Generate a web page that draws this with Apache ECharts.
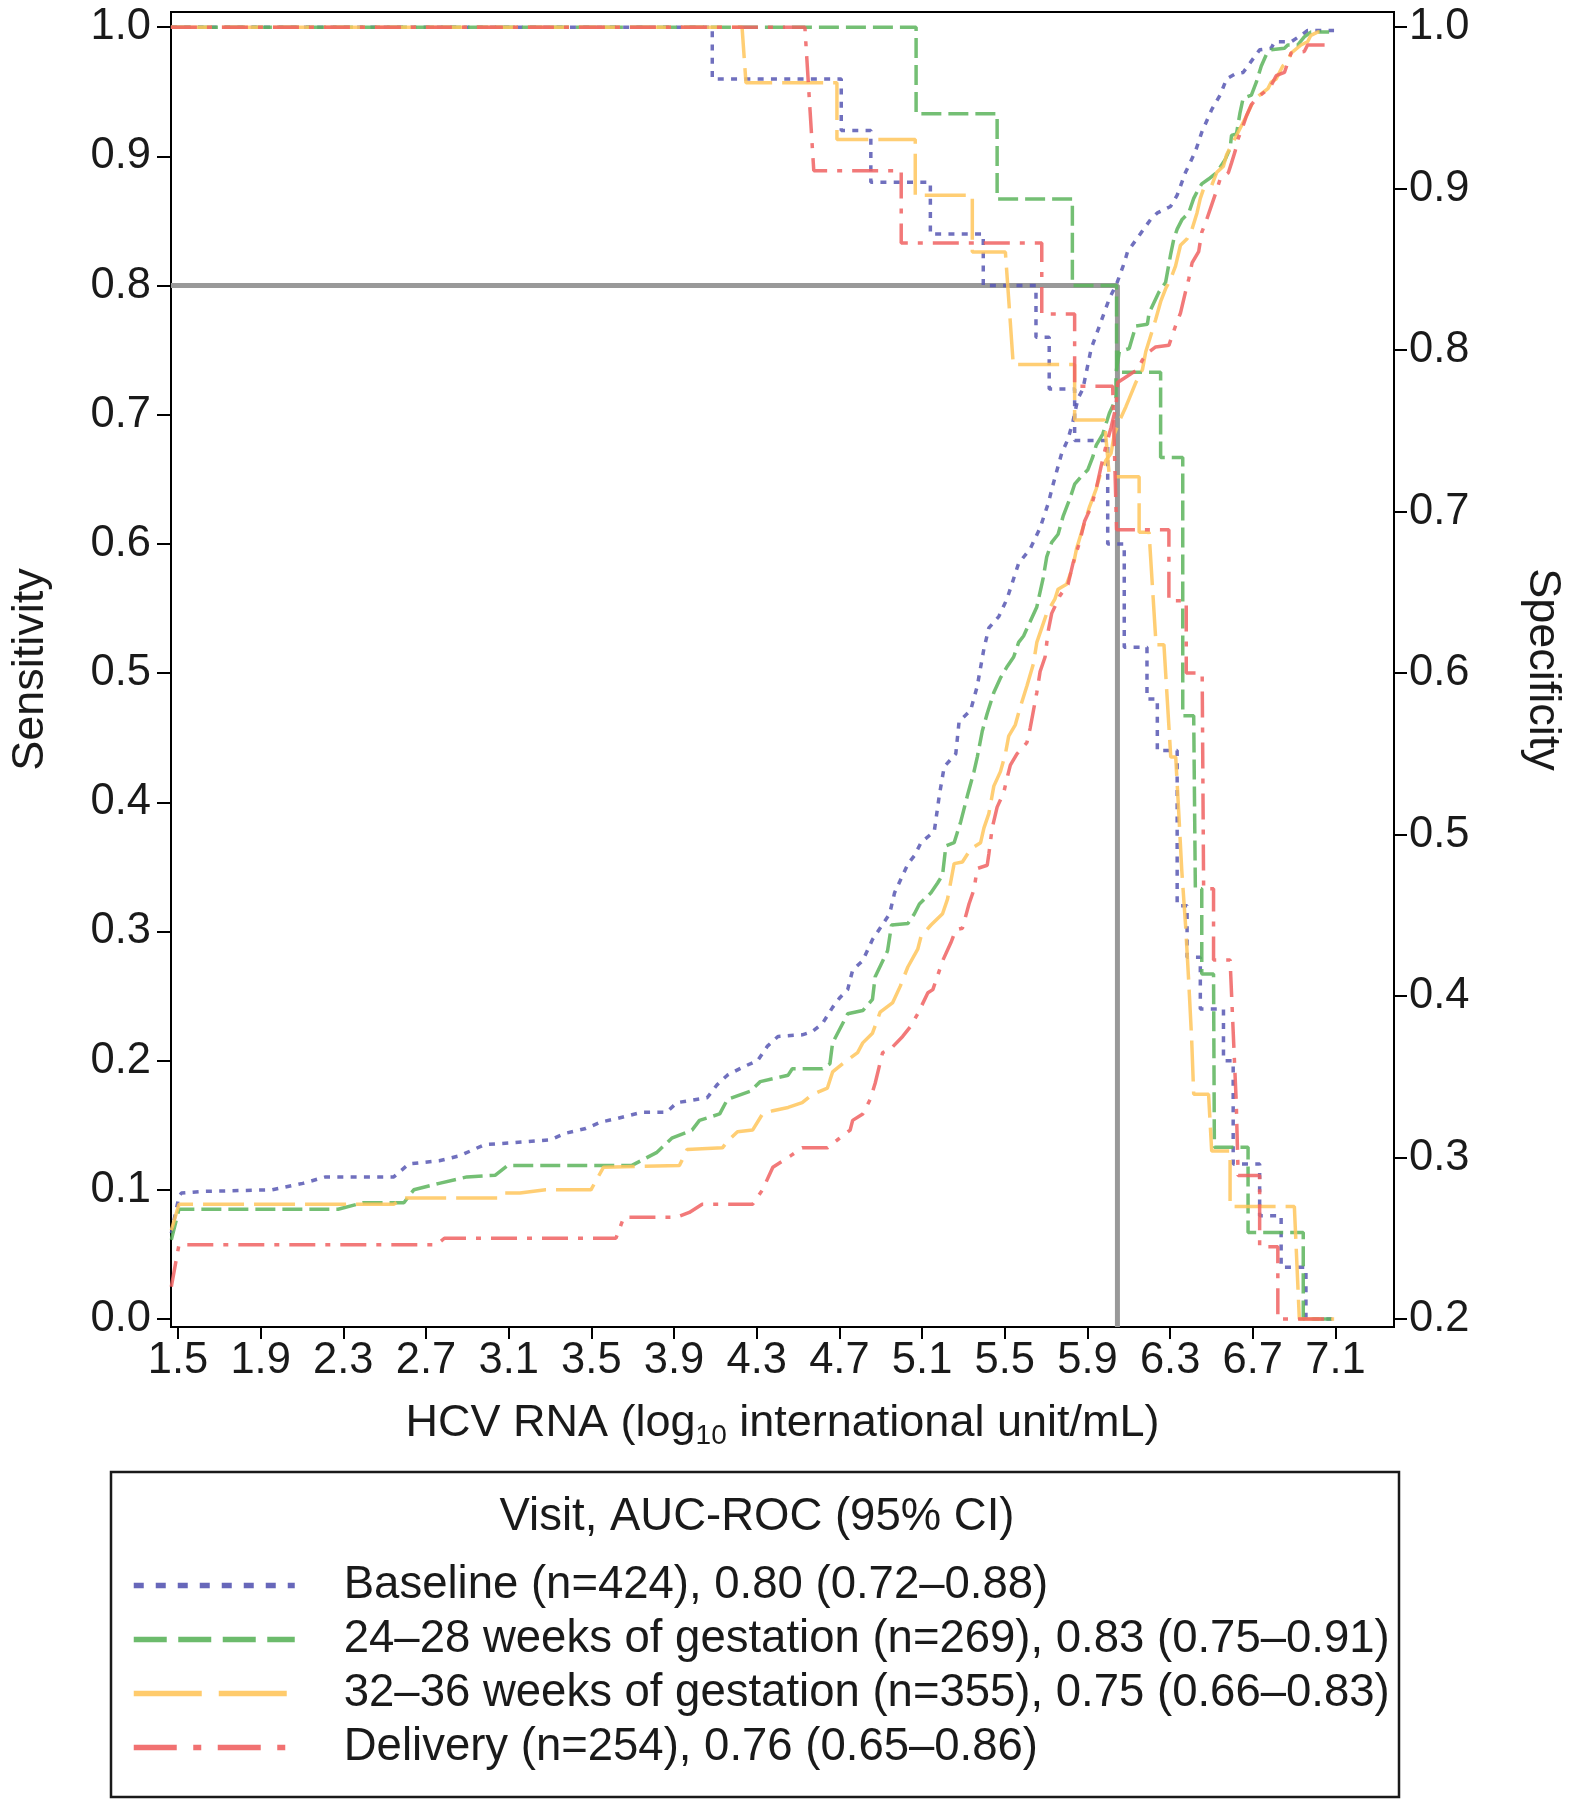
<!DOCTYPE html>
<html>
<head>
<meta charset="utf-8">
<script src="https://cdn.jsdelivr.net/npm/echarts@6/dist/echarts.min.js"></script>
<style>html,body{margin:0;padding:0;background:#fff}#c{width:1573px;height:1800px}</style>
</head>
<body>
<div id="c"></div>
<script>
// ---------- tick labels ----------
const xTicks = [1.5, 1.9, 2.3, 2.7, 3.1, 3.5, 3.9, 4.3, 4.7, 5.1, 5.5, 5.9, 6.3, 6.7, 7.1];
const sensTicks = [0, 0.1, 0.2, 0.3, 0.4, 0.5, 0.6, 0.7, 0.8, 0.9, 1.0];
const specTicks = [0.2, 0.3, 0.4, 0.5, 0.6, 0.7, 0.8, 0.9, 1.0];

// ---------- series names ----------
const names = [
  'Baseline (n=424), 0.80 (0.72\u20130.88)',
  '24\u201328 weeks of gestation (n=269), 0.83 (0.75\u20130.91)',
  '32\u201336 weeks of gestation (n=355), 0.75 (0.66\u20130.83)',
  'Delivery (n=254), 0.76 (0.65\u20130.86)'
];

// ---------- reference cut-off (sensitivity 0.80) ----------
const cutoffX = 6.045;
const cutoffSens = 0.8;

// ---------- sensitivity curves (left axis) [HCV RNA, sensitivity] ----------
const baselineSens = [[1.466,1.0],[4.085,1.0],[4.085,0.96],[4.709,0.96],[4.709,0.92],[4.852,0.92],[4.852,0.88],[5.140,0.88],[5.140,0.84],[5.396,0.84],[5.396,0.80],[5.651,0.80],[5.651,0.76],[5.715,0.76],[5.715,0.72],[5.838,0.72],[5.838,0.68],[5.998,0.68],[5.998,0.60],[6.078,0.60],[6.078,0.52],[6.188,0.52],[6.188,0.48],[6.238,0.48],[6.238,0.44],[6.334,0.44],[6.334,0.32],[6.382,0.32],[6.382,0.28],[6.446,0.28],[6.446,0.24],[6.558,0.24],[6.558,0.20],[6.605,0.20],[6.605,0.12],[6.733,0.12],[6.733,0.08],[6.837,0.08],[6.837,0.04],[6.957,0.04],[6.957,0.0],[7.093,0.0]];
const wk2428Sens = [[1.466,1.0],[5.071,1.0],[5.071,0.933],[5.463,0.933],[5.463,0.867],[5.827,0.867],[5.827,0.80],[6.041,0.80],[6.041,0.733],[6.254,0.733],[6.254,0.667],[6.361,0.667],[6.361,0.467],[6.414,0.467],[6.422,0.333],[6.453,0.333],[6.453,0.267],[6.510,0.267],[6.514,0.133],[6.677,0.133],[6.677,0.067],[6.944,0.067],[6.944,0.0],[7.093,0.0]];
const wk3236Sens = [[1.466,1.0],[4.229,1.0],[4.248,0.957],[4.688,0.957],[4.688,0.913],[5.067,0.913],[5.067,0.870],[5.343,0.870],[5.343,0.826],[5.503,0.826],[5.541,0.739],[5.838,0.739],[5.838,0.696],[5.982,0.696],[6.006,0.652],[6.150,0.652],[6.150,0.609],[6.198,0.609],[6.232,0.522],[6.270,0.522],[6.303,0.435],[6.327,0.435],[6.342,0.391],[6.356,0.348],[6.375,0.304],[6.390,0.261],[6.404,0.217],[6.414,0.174],[6.486,0.174],[6.501,0.130],[6.590,0.130],[6.590,0.087],[6.901,0.087],[6.925,0.0],[7.093,0.0]];
const deliverySens = [[1.466,1.0],[4.533,1.0],[4.576,0.889],[4.999,0.889],[4.999,0.833],[5.679,0.833],[5.679,0.778],[5.838,0.778],[5.838,0.722],[6.022,0.722],[6.041,0.611],[6.294,0.611],[6.294,0.556],[6.378,0.556],[6.378,0.500],[6.455,0.500],[6.462,0.333],[6.510,0.333],[6.510,0.278],[6.590,0.278],[6.620,0.167],[6.629,0.111],[6.733,0.111],[6.733,0.056],[6.821,0.056],[6.821,0.0],[7.093,0.0]];

// ---------- specificity curves (right axis) [HCV RNA, specificity] ----------
const baselineSpec = [[1.468,0.253],[1.505,0.276],[1.517,0.278],[1.615,0.279],[1.955,0.280],[2.104,0.284],[2.214,0.288],[2.544,0.288],[2.617,0.296],[2.764,0.298],[2.861,0.301],[2.984,0.308],[3.106,0.309],[3.302,0.311],[3.374,0.315],[3.473,0.318],[3.547,0.322],[3.619,0.324],[3.743,0.328],[3.863,0.328],[3.914,0.334],[4.060,0.337],[4.108,0.345],[4.158,0.351],[4.233,0.356],[4.304,0.360],[4.352,0.369],[4.403,0.375],[4.520,0.376],[4.568,0.378],[4.618,0.383],[4.667,0.393],[4.702,0.399],[4.740,0.404],[4.764,0.416],[4.813,0.422],[4.860,0.435],[4.871,0.437],[4.943,0.451],[4.967,0.464],[5.032,0.482],[5.063,0.487],[5.095,0.495],[5.159,0.502],[5.183,0.524],[5.207,0.542],[5.263,0.550],[5.279,0.570],[5.335,0.577],[5.367,0.592],[5.399,0.615],[5.423,0.628],[5.471,0.635],[5.511,0.646],[5.567,0.668],[5.623,0.677],[5.671,0.690],[5.710,0.705],[5.734,0.717],[5.775,0.736],[5.806,0.745],[5.830,0.756],[5.854,0.770],[5.878,0.776],[5.918,0.801],[5.958,0.815],[6.006,0.832],[6.041,0.841],[6.078,0.854],[6.094,0.861],[6.150,0.871],[6.206,0.881],[6.238,0.885],[6.302,0.889],[6.334,0.896],[6.374,0.910],[6.422,0.923],[6.453,0.935],[6.501,0.949],[6.542,0.958],[6.573,0.968],[6.614,0.971],[6.653,0.972],[6.693,0.979],[6.733,0.986],[6.789,0.987],[6.805,0.991],[6.885,0.991],[6.933,0.995],[6.965,0.998],[7.093,0.998]];
const wk2428Spec = [[1.468,0.249],[1.505,0.268],[2.275,0.268],[2.397,0.272],[2.593,0.272],[2.641,0.280],[2.764,0.284],[2.898,0.288],[3.034,0.289],[3.094,0.295],[3.694,0.295],[3.815,0.303],[3.889,0.312],[3.987,0.317],[4.023,0.323],[4.121,0.327],[4.158,0.336],[4.268,0.341],[4.317,0.347],[4.452,0.351],[4.472,0.355],[4.618,0.355],[4.654,0.358],[4.667,0.371],[4.740,0.389],[4.813,0.391],[4.860,0.398],[4.873,0.412],[4.933,0.428],[4.952,0.444],[5.032,0.445],[5.063,0.451],[5.087,0.457],[5.143,0.464],[5.175,0.470],[5.199,0.475],[5.215,0.493],[5.255,0.495],[5.287,0.508],[5.319,0.524],[5.351,0.539],[5.367,0.548],[5.391,0.564],[5.415,0.575],[5.447,0.588],[5.479,0.597],[5.511,0.604],[5.543,0.610],[5.567,0.619],[5.591,0.623],[5.623,0.632],[5.655,0.641],[5.686,0.659],[5.703,0.672],[5.727,0.681],[5.758,0.686],[5.782,0.697],[5.815,0.708],[5.838,0.717],[5.871,0.722],[5.902,0.726],[5.926,0.734],[5.942,0.741],[5.974,0.748],[6.006,0.761],[6.038,0.770],[6.038,0.786],[6.054,0.799],[6.102,0.801],[6.134,0.815],[6.190,0.816],[6.198,0.823],[6.246,0.836],[6.278,0.842],[6.302,0.859],[6.318,0.869],[6.334,0.875],[6.358,0.881],[6.390,0.885],[6.414,0.894],[6.430,0.898],[6.453,0.903],[6.486,0.906],[6.525,0.910],[6.566,0.918],[6.590,0.925],[6.597,0.933],[6.621,0.934],[6.638,0.947],[6.653,0.956],[6.693,0.958],[6.717,0.966],[6.741,0.976],[6.765,0.983],[6.789,0.986],[6.853,0.987],[6.869,0.989],[6.917,0.989],[6.949,0.994],[6.981,0.997],[7.069,0.997]];
const wk3236Spec = [[1.468,0.255],[1.505,0.271],[2.544,0.271],[2.593,0.275],[3.045,0.275],[3.070,0.278],[3.155,0.278],[3.278,0.280],[3.498,0.280],[3.559,0.294],[3.926,0.295],[3.963,0.305],[4.134,0.306],[4.158,0.310],[4.207,0.316],[4.280,0.317],[4.328,0.327],[4.378,0.329],[4.452,0.331],[4.520,0.334],[4.568,0.339],[4.642,0.343],[4.667,0.353],[4.715,0.358],[4.788,0.365],[4.813,0.371],[4.860,0.377],[4.897,0.390],[4.958,0.396],[4.994,0.406],[5.031,0.418],[5.079,0.429],[5.095,0.437],[5.143,0.444],[5.199,0.451],[5.223,0.460],[5.255,0.482],[5.295,0.483],[5.335,0.491],[5.383,0.495],[5.399,0.504],[5.423,0.513],[5.447,0.530],[5.479,0.539],[5.503,0.550],[5.519,0.561],[5.551,0.568],[5.575,0.579],[5.607,0.592],[5.639,0.606],[5.655,0.619],[5.679,0.628],[5.703,0.637],[5.743,0.646],[5.758,0.652],[5.799,0.655],[5.830,0.666],[5.847,0.677],[5.878,0.690],[5.910,0.703],[5.942,0.714],[5.966,0.725],[5.990,0.732],[6.014,0.736],[6.030,0.748],[6.054,0.756],[6.086,0.765],[6.102,0.770],[6.134,0.780],[6.166,0.788],[6.182,0.799],[6.206,0.809],[6.230,0.819],[6.254,0.830],[6.278,0.838],[6.302,0.844],[6.326,0.852],[6.350,0.865],[6.382,0.869],[6.406,0.875],[6.430,0.885],[6.446,0.894],[6.462,0.900],[6.501,0.902],[6.525,0.910],[6.558,0.914],[6.573,0.921],[6.597,0.927],[6.621,0.933],[6.645,0.939],[6.669,0.945],[6.701,0.954],[6.733,0.958],[6.773,0.962],[6.789,0.966],[6.813,0.968],[6.845,0.976],[6.869,0.979],[6.885,0.984],[6.933,0.989],[6.965,0.991],[6.981,0.995],[7.013,0.997],[7.069,0.997]];
const deliverySpec = [[1.468,0.220],[1.505,0.246],[2.751,0.246],[2.789,0.250],[3.619,0.250],[3.657,0.263],[3.914,0.263],[3.974,0.266],[4.036,0.271],[4.280,0.271],[4.328,0.280],[4.378,0.294],[4.463,0.301],[4.520,0.306],[4.642,0.306],[4.691,0.311],[4.752,0.317],[4.764,0.323],[4.813,0.327],[4.849,0.336],[4.873,0.346],[4.909,0.365],[4.946,0.367],[5.006,0.375],[5.043,0.381],[5.079,0.389],[5.128,0.402],[5.152,0.404],[5.200,0.422],[5.239,0.433],[5.263,0.441],[5.295,0.442],[5.327,0.457],[5.351,0.466],[5.367,0.479],[5.415,0.481],[5.423,0.488],[5.439,0.504],[5.463,0.517],[5.495,0.526],[5.511,0.535],[5.527,0.543],[5.559,0.550],[5.607,0.557],[5.623,0.566],[5.639,0.577],[5.655,0.588],[5.671,0.601],[5.695,0.610],[5.710,0.626],[5.727,0.637],[5.767,0.648],[5.806,0.655],[5.830,0.668],[5.862,0.681],[5.886,0.694],[5.918,0.703],[5.942,0.714],[5.966,0.728],[5.990,0.741],[6.014,0.752],[6.038,0.765],[6.046,0.780],[6.094,0.784],[6.142,0.788],[6.166,0.794],[6.198,0.799],[6.230,0.802],[6.294,0.803],[6.310,0.809],[6.326,0.815],[6.350,0.823],[6.374,0.836],[6.390,0.844],[6.406,0.854],[6.438,0.861],[6.453,0.873],[6.477,0.881],[6.501,0.890],[6.525,0.899],[6.542,0.906],[6.582,0.910],[6.597,0.916],[6.614,0.923],[6.629,0.931],[6.653,0.939],[6.669,0.945],[6.693,0.952],[6.717,0.956],[6.757,0.960],[6.789,0.964],[6.813,0.970],[6.853,0.972],[6.869,0.978],[6.885,0.984],[6.949,0.985],[6.965,0.989],[7.093,0.989]];

// ---------- styling ----------
const FONT = '"Liberation Sans", Arial, Helvetica, sans-serif';
const TXT = '#1a1a1a';
const colors = ['#5757b3', '#5cb45c', '#ffc55c', '#f06262'];
const dashes = [[6, 7.3], [20, 7], [41, 10], [26, 10, 5, 10]];
const legendDashes = [[10, 12], [33, 11.5], [68, 17], [43, 16.5, 8, 16.5]];
const sensData = [baselineSens, wk2428Sens, wk3236Sens, deliverySens];
const specData = [baselineSpec, wk2428Spec, wk3236Spec, deliverySpec];

const X_MIN = 1.4664, X_MAX = 7.383;
const Y_MIN = -0.0062, Y_MAX = 1.0118;
const Y2_MIN = 0.2 + 0.8 * Y_MIN, Y2_MAX = 0.2 + 0.8 * Y_MAX;

const axisLine = { show: true, onZero: false, lineStyle: { color: '#000', width: 2 } };
const lbl = (m, extra) => Object.assign({ fontSize: 43.5, color: TXT, fontFamily: FONT, margin: m, formatter: v => Number(v).toFixed(1) }, extra);

const series = [{
  type: 'line', name: 'ref', yAxisIndex: 0, symbol: 'none', silent: true, z: 1,
  data: [[X_MIN, cutoffSens], [cutoffX, cutoffSens], [cutoffX, Y_MIN]],
  lineStyle: { color: '#999999', width: 5 }
}];
for (let i = 0; i < 4; i++) {
  const ls = { color: colors[i], width: 3.5, type: dashes[i], opacity: 0.85 };
  series.push({ type: 'line', name: names[i], yAxisIndex: 0, symbol: 'none', z: 2 + i, data: sensData[i], lineStyle: ls, itemStyle: { color: colors[i] } });
  series.push({ type: 'line', name: names[i], yAxisIndex: 1, symbol: 'none', z: 2 + i, data: specData[i], lineStyle: ls, itemStyle: { color: colors[i] } });
}

const option = {
  animation: false,
  backgroundColor: '#fff',
  grid: { left: 163, top: 12, width: 1234, height: 1315, show: true, borderColor: '#000', borderWidth: 2, containLabel: false },
  xAxis: {
    type: 'value', min: X_MIN, max: X_MAX,
    axisLine: axisLine,
    axisTick: { show: true, length: 12, lineStyle: { color: '#000', width: 2 }, customValues: xTicks },
    axisLabel: lbl(12, { customValues: xTicks }),
    splitLine: { show: false },
    name: '{a|HCV RNA (log}{s|10}{a| international unit/mL)}',
    nameLocation: 'middle', nameGap: 71,
    nameTextStyle: {
      fontSize: 45, color: TXT, fontFamily: FONT,
      rich: {
        a: { fontSize: 45, color: TXT, fontFamily: FONT, lineHeight: 52 },
        s: { fontSize: 28, color: TXT, fontFamily: FONT, lineHeight: 8, verticalAlign: 'bottom' }
      }
    }
  },
  yAxis: [{
    type: 'value', position: 'left', min: Y_MIN, max: Y_MAX,
    axisLine: axisLine,
    axisTick: { show: true, length: 14, lineStyle: { color: '#000', width: 2 }, customValues: sensTicks },
    axisLabel: lbl(20, { customValues: sensTicks }),
    splitLine: { show: false },
    name: 'Sensitivity', nameLocation: 'middle', nameRotate: 90, nameGap: 118,
    nameTextStyle: { fontSize: 45, color: TXT, fontFamily: FONT }
  }, {
    type: 'value', position: 'right', min: Y2_MIN, max: Y2_MAX,
    axisLine: axisLine,
    axisTick: { show: true, length: 13, lineStyle: { color: '#000', width: 2 }, customValues: specTicks },
    axisLabel: lbl(15, { customValues: specTicks }),
    splitLine: { show: false },
    name: 'Specificity', nameLocation: 'middle', nameRotate: -90, nameGap: 126,
    nameTextStyle: { fontSize: 45, color: TXT, fontFamily: FONT }
  }],
  legend: {
    orient: 'vertical', left: 131, top: 1559, padding: 0,
    itemWidth: 161, itemHeight: 4, itemGap: 1,
    selectedMode: false,
    textStyle: { fontSize: 45.5, color: TXT, fontFamily: FONT, lineHeight: 53, padding: [0, 0, 0, 44] },
    data: names.map((n, i) => ({
      name: n,
      itemStyle: { opacity: 0 },
      lineStyle: { color: colors[i], width: 5.5, type: legendDashes[i], opacity: 0.9 }
    }))
  },
  graphic: [
    { type: 'rect', shape: { x: 111, y: 1472, width: 1288, height: 325 }, style: { fill: 'none', stroke: '#1a1a1a', lineWidth: 2.5 } },
    { type: 'text', x: 757, y: 1517, style: { text: 'Visit, AUC-ROC (95% CI)', fontSize: 45.5, fontFamily: FONT, fill: TXT, align: 'center', verticalAlign: 'middle' } }
  ],
  series: series
};

const chart = echarts.init(document.getElementById('c'), null, { renderer: 'canvas' });
chart.setOption(option);
</script>
</body>
</html>
